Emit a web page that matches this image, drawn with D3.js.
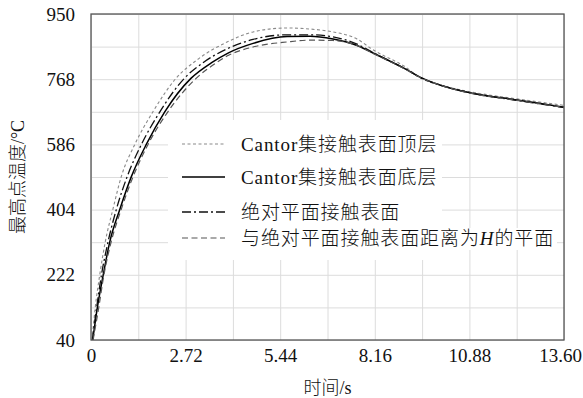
<!DOCTYPE html>
<html>
<head>
  <meta charset="utf-8">
  <title>最高点温度</title>
  <script src="https://d3js.org/d3.v7.min.js"></script>
  <style>
    body { margin: 0; background: #fff; }
    svg text { font-family: "Liberation Serif", "Noto Sans CJK SC", serif; font-weight: 300; fill: #111; }
    .grid line { stroke: #dcdcdc; stroke-width: 1; }
    .grid path { display: none; }
    .axis path, .axis line { display: none; }
    .axis text { font-size: 19px; }
    .series { fill: none; stroke-linejoin: round; }
  </style>
</head>
<body>
  <svg width="583" height="398"></svg>

  <script>
    // tick labels
    const xTicks = [0, 2.72, 5.44, 8.16, 10.88, 13.60];
    const xGrid = [0, 1.36, 2.72, 4.08, 5.44, 6.80, 8.16, 9.52, 10.88, 12.24, 13.60];
    const yTicks = [40, 222, 404, 586, 768, 950];
    const yGrid = [40, 131, 222, 313, 404, 495, 586, 677, 768, 859, 950];

    // Cantor集接触表面顶层
    const timeTop = [0.03, 0.12, 0.25, 0.41, 0.63, 0.87, 1.26, 1.78, 2.45, 3.05, 3.94, 4.66, 5.64, 6.30, 6.96, 7.65, 8.11, 9.09, 9.46, 10.03, 10.90, 12.25, 13.60];
    const tempTop = [40, 129, 221, 314, 405, 496, 586, 677, 771, 822, 873, 900, 911, 908, 900, 880, 850, 799, 772, 752, 733, 713, 695];

    // Cantor集接触表面底层
    const timeBottom = [0.05, 0.18, 0.35, 0.54, 0.83, 1.16, 1.59, 2.12, 2.88, 3.48, 3.94, 4.66, 5.64, 6.30, 6.96, 7.65, 8.11, 9.09, 9.46, 10.03, 10.90, 12.25, 13.60];
    const tempBottom = [40, 129, 221, 314, 405, 496, 586, 677, 771, 815, 841, 868, 887, 888, 880, 862, 841, 794, 774, 752, 730, 710, 690];

    // 绝对平面接触表面
    const timeFlat = [0.04, 0.16, 0.30, 0.49, 0.73, 1.04, 1.45, 1.98, 2.69, 3.22, 3.94, 4.66, 5.64, 6.30, 6.96, 7.65, 8.11, 9.09, 9.46, 10.03, 10.90, 12.25, 13.60];
    const tempFlat = [40, 129, 221, 314, 405, 496, 586, 677, 771, 814, 854, 879, 892, 892, 886, 866, 842, 794, 773, 752, 730, 709, 689];

    // 与绝对平面接触表面距离为H的平面
    const timeH = [0.06, 0.22, 0.37, 0.58, 0.87, 1.21, 1.64, 2.21, 3.03, 3.62, 3.94, 4.66, 5.64, 6.30, 6.96, 7.65, 8.11, 9.09, 9.46, 10.03, 10.90, 12.25, 13.60];
    const tempH = [40, 129, 221, 314, 405, 496, 586, 677, 771, 815, 834, 858, 872, 877, 876, 862, 840, 793, 773, 752, 729, 709, 689];

    const series = [
      { name: "Cantor集接触表面顶层", t: timeTop, v: tempTop, color: "#8a8a8a", width: 1.1, dash: "3,2.5" },
      { name: "Cantor集接触表面底层", t: timeBottom, v: tempBottom, color: "#000", width: 1.5, dash: null },
      { name: "绝对平面接触表面", t: timeFlat, v: tempFlat, color: "#111", width: 1.3, dash: "9,3,2,3" },
      { name: "与绝对平面接触表面距离为H的平面", t: timeH, v: tempH, color: "#555", width: 1.2, dash: "6,3.5" }
    ];

    const svg = d3.select("svg");
    const plotL = 91, plotT = 14, plotR = 564, plotB = 340;

    const x = d3.scaleLinear().domain([0, 13.6]).range([plotL, plotR]);
    const y = d3.scaleLinear().domain([40, 950]).range([plotB, plotT]);

    // gridlines
    svg.append("g").attr("class", "grid")
      .attr("transform", `translate(0,${plotB})`)
      .call(d3.axisBottom(x).tickValues(xGrid).tickSize(-(plotB - plotT)).tickFormat(""));
    svg.append("g").attr("class", "grid")
      .attr("transform", `translate(${plotL},0)`)
      .call(d3.axisLeft(y).tickValues(yGrid).tickSize(-(plotR - plotL)).tickFormat(""));

    // curves
    const line = d3.line().curve(d3.curveMonotoneX);
    series.forEach(s => {
      const pts = s.t.map((t, i) => [x(t), y(s.v[i])]);
      svg.append("path").attr("class", "series")
        .attr("d", line(pts))
        .attr("stroke", s.color)
        .attr("stroke-width", s.width)
        .attr("stroke-dasharray", s.dash);
    });

    // legend background hides the grid behind it
    svg.append("rect").attr("x", 168).attr("y", 120).attr("width", 274).attr("height", 140).attr("fill", "#fff");
    svg.append("rect").attr("x", 440).attr("y", 228).attr("width", 117).attr("height", 22).attr("fill", "#fff");

    const rowY = [144, 177, 212, 238];
    series.forEach((s, i) => {
      const g = svg.append("g").attr("transform", `translate(0,${rowY[i]})`);
      g.append("line").attr("x1", 182).attr("x2", 225)
        .attr("stroke", s.color).attr("stroke-width", s.width)
        .attr("stroke-dasharray", s.dash);
      const txt = g.append("text").attr("x", 241).attr("dy", "0.35em")
        .style("font-size", "19px").style("letter-spacing", "0.9px");
      if (i === 3) {
        txt.append("tspan").text("与绝对平面接触表面距离为");
        txt.append("tspan").style("font-style", "italic").text("H");
        txt.append("tspan").text("的平面");
      } else {
        txt.text(s.name);
      }
    });

    // frame
    svg.append("rect").attr("x", plotL).attr("y", plotT)
      .attr("width", plotR - plotL).attr("height", plotB - plotT)
      .attr("fill", "none").attr("stroke", "#555").attr("stroke-width", 1.3);

    // axes labels
    const xAxis = svg.append("g").attr("class", "axis")
      .attr("transform", `translate(0,${plotB})`)
      .call(d3.axisBottom(x).tickValues(xTicks).tickSize(0).tickPadding(9)
        .tickFormat((d, i) => i === 0 ? "0" : d3.format(".2f")(d)));
    // last label sits a little inside so it is not cut by the page edge
    xAxis.selectAll(".tick text").filter((d, i) => i === xTicks.length - 1).attr("dx", -4);

    svg.append("g").attr("class", "axis")
      .attr("transform", `translate(${plotL},0)`)
      .call(d3.axisLeft(y).tickValues(yTicks).tickSize(0).tickPadding(16));

    svg.append("text").attr("x", (plotL + plotR) / 2).attr("y", 394)
      .attr("text-anchor", "middle").style("font-size", "18px").text("时间/s");
    svg.append("text")
      .attr("transform", `translate(24,${(plotT + plotB) / 2}) rotate(-90)`)
      .attr("text-anchor", "middle").style("font-size", "18px").text("最高点温度/°C");
  </script>
</body>
</html>
